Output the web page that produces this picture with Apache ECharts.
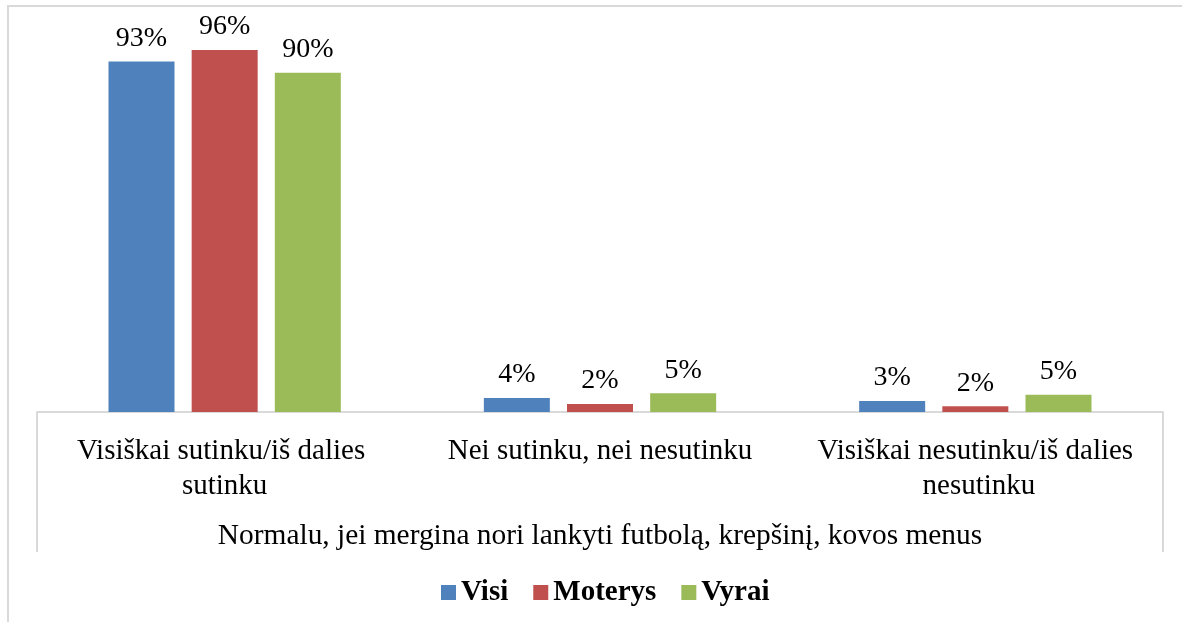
<!DOCTYPE html>
<html>
<head>
<meta charset="utf-8">
<script src="https://cdn.jsdelivr.net/npm/echarts@6/dist/echarts.min.js"></script>
<style>
html,body{margin:0;padding:0;background:#fff;}
#chart{width:1182px;height:622px;}
</style>
</head>
<body>
<div id="chart"></div>
<script>
const categories = ["Visiškai sutinku/iš dalies sutinku", "Nei sutinku, nei nesutinku", "Visiškai nesutinku/iš dalies nesutinku"];
const axisTitle = "Normalu, jei mergina nori lankyti futbolą, krepšinį, kovos menus";
const seriesNames = ["Visi", "Moterys", "Vyrai"];
const visi = [93, 3.7, 2.9];
const moterys = [96, 2.1, 1.5];
const vyrai = [90, 5, 4.6];
const colors = ["#4F81BD", "#C0504D", "#9BBB59"];

const FONT = "Liberation Serif";
const GRID = {left: 37, right: 19, top: 35, bottom: 210};

const chart = echarts.init(document.getElementById('chart'));
const mk = (name, data, color) => ({
  name, type: 'bar', data, barWidth: 66, barGap: '26%',
  itemStyle: {color},
  label: {show: true, position: 'top', distance: 9, color: '#000',
    fontFamily: FONT, fontSize: 28, formatter: p => Math.round(p.value) + '%'}
});
chart.setOption({
  animation: false,
  grid: GRID,
  legend: {
    bottom: 10, left: 436, itemWidth: 15, itemHeight: 15, itemGap: 25, icon: 'rect',
    textStyle: {fontFamily: FONT, fontSize: 29, fontWeight: 'bold', color: '#000'}
  },
  xAxis: {
    type: 'category', data: categories,
    axisLine: {lineStyle: {color: '#d9d9d9', width: 2}},
    axisTick: {show: false},
    axisLabel: {fontFamily: FONT, fontSize: 29, color: '#000', margin: 22, lineHeight: 35,
      width: 360, overflow: 'break', interval: 0},
    name: axisTitle, nameLocation: 'middle', nameGap: 110,
    nameTextStyle: {fontFamily: FONT, fontSize: 29.4, color: '#000'}
  },
  yAxis: {type: 'value', min: 0, max: 100, show: false, splitLine: {show: false}},
  series: [mk(seriesNames[0], visi, colors[0]), mk(seriesNames[1], moterys, colors[1]), mk(seriesNames[2], vyrai, colors[2])],
  graphic: [
    {type: 'rect', shape: {x: 8, y: 6, width: 1200, height: 700}, style: {fill: null, stroke: '#d9d9d9', lineWidth: 2}, silent: true},
    {type: 'line', shape: {x1: GRID.left, y1: 622 - GRID.bottom, x2: GRID.left, y2: 552}, style: {stroke: '#d9d9d9', lineWidth: 2}, silent: true},
    {type: 'line', shape: {x1: 1182 - GRID.right, y1: 622 - GRID.bottom, x2: 1182 - GRID.right, y2: 552}, style: {stroke: '#d9d9d9', lineWidth: 2}, silent: true}
  ]
});
</script>
</body>
</html>
